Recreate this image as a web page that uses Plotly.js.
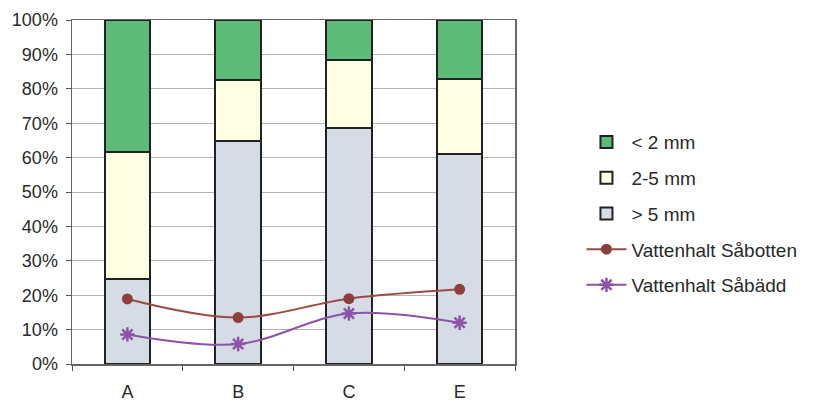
<!DOCTYPE html>
<html>
<head>
<meta charset="utf-8">
<script src="https://cdn.plot.ly/plotly-3.0.1.min.js"></script>
<style>
  body { margin: 0; background: #fff; }
  #chart { width: 820px; height: 401px; }
</style>
</head>
<body>
<div id="chart"></div>
<script>
var categories = ['A', 'B', 'C', 'E'];

// andelar i procent
var over5mm = [24.8, 64.9, 68.6, 61.0];
var mid2to5mm = [36.8, 17.6, 19.8, 21.8];
var under2mm = [38.4, 17.5, 11.6, 17.2];

var vattenSabotten = [18.9, 13.5, 19.0, 21.7];
var vattenSabadd = [8.6, 5.8, 14.7, 12.0];

var barLine = { color: '#222222', width: 2 };

var traceOver5 = {
  x: categories,
  y: over5mm,
  type: 'bar',
  name: '> 5 mm',
  legendrank: 3,
  legendgroup: 'g3',
  marker: { color: '#d5dce6', line: barLine },
  hoverinfo: 'skip'
};

var traceMid = {
  x: categories,
  y: mid2to5mm,
  type: 'bar',
  name: '2-5 mm',
  legendrank: 2,
  legendgroup: 'g2',
  marker: { color: '#fefee2', line: barLine },
  hoverinfo: 'skip'
};

var traceUnder2 = {
  x: categories,
  y: under2mm,
  type: 'bar',
  name: '< 2 mm',
  legendrank: 1,
  legendgroup: 'g1',
  marker: { color: '#5dbb78', line: barLine },
  hoverinfo: 'skip'
};

var traceBotten = {
  x: categories,
  y: vattenSabotten,
  type: 'scatter',
  mode: 'lines+markers',
  name: 'Vattenhalt Såbotten',
  legendrank: 4,
  legendgroup: 'g4',
  line: { color: '#9b4a48', width: 2, shape: 'spline' },
  marker: { symbol: 'circle', size: 11, color: '#8e3f3c' }
};

var traceBadd = {
  x: categories,
  y: vattenSabadd,
  type: 'scatter',
  mode: 'lines+markers',
  name: 'Vattenhalt Såbädd',
  legendrank: 5,
  legendgroup: 'g5',
  line: { color: '#8e52a8', width: 2, shape: 'spline' },
  marker: { symbol: 'asterisk-open', size: 12, color: '#8e52a8', line: { color: '#8e52a8', width: 2.5 } }
};

var data = [traceOver5, traceMid, traceUnder2, traceBotten, traceBadd];

var layout = {
  width: 820,
  height: 401,
  margin: { l: 72, r: 305, t: 20, b: 37 },
  paper_bgcolor: '#ffffff',
  plot_bgcolor: '#ffffff',
  barmode: 'stack',
  bargap: 0.59,
  showlegend: true,
  font: { family: 'Liberation Sans, Arial, sans-serif', color: '#2a2a2a', size: 18 },
  xaxis: {
    type: 'category',
    showgrid: false,
    ticks: 'outside',
    tickson: 'boundaries',
    ticklen: 5,
    tickcolor: '#555',
    ticklabelstandoff: 11,
    showline: true,
    linecolor: '#666',
    linewidth: 1.5,
    mirror: true,
    tickfont: { size: 18 }
  },
  yaxis: {
    range: [0, 100],
    dtick: 10,
    ticksuffix: '%',
    showgrid: true,
    gridcolor: '#b4b4b4',
    gridwidth: 1,
    ticks: 'outside',
    ticklen: 5,
    tickcolor: '#555',
    ticklabelstandoff: 4,
    showline: true,
    linecolor: '#666',
    linewidth: 1.5,
    mirror: true,
    zeroline: false,
    tickfont: { size: 18 }
  },
  legend: {
    x: 1.15,
    y: 0.70,
    xanchor: 'left',
    yanchor: 'top',
    traceorder: 'grouped',
    tracegroupgap: 8,
    itemwidth: 40,
    font: { size: 19, color: '#2a2a2a' },
    bgcolor: 'rgba(0,0,0,0)'
  }
};

window.addEventListener('load', (event) => {
  Plotly.newPlot('chart', data, layout, { staticPlot: true });
});
</script>
</body>
</html>
